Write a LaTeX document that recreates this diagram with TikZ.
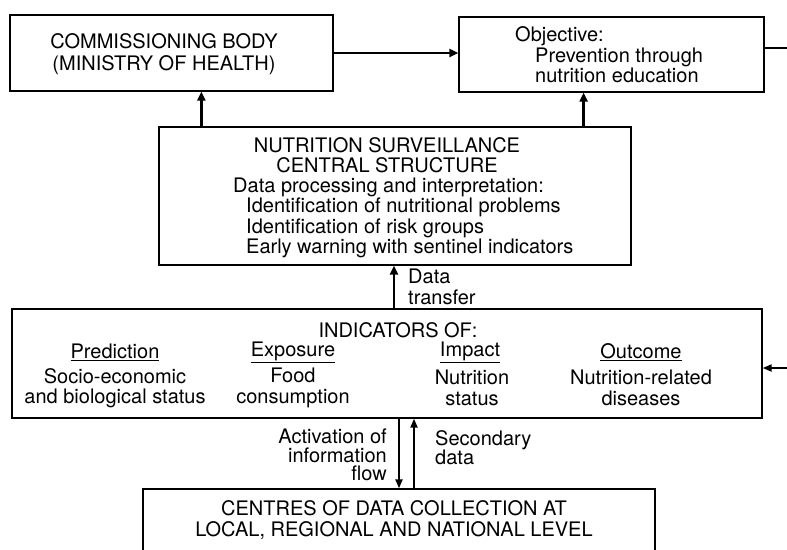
\documentclass[tikz,border=0pt]{standalone}
\usepackage{fontspec}
\setmainfont{TeX Gyre Heros}
\usetikzlibrary{arrows.meta}
\tikzset{
  boxnode/.style={draw, line width=1.3pt, inner sep=0pt, rectangle},
  txt/.style={inner sep=0pt, font=\fontsize{20}{20.5}\selectfont},
  thickarrow/.style={line width=2.6pt, -{Triangle[length=9pt,width=8pt]}},
  midarrow/.style={line width=2pt, -{Triangle[length=9pt,width=7pt]}},
  plainline/.style={line width=2pt}
}
\begin{document}
\begin{tikzpicture}[x=1pt,y=-1pt]
\useasboundingbox (0,0) rectangle (787,549);
\clip (0,0) rectangle (787,549);
% boxes
\node[boxnode, minimum width=323pt, minimum height=76pt] (comm) at (171.5,53) {};
\node[boxnode, minimum width=305pt, minimum height=75pt] (obj) at (611.5,54.5) {};
\node[boxnode, minimum width=472pt, minimum height=138pt] (central) at (395,196) {};
\node[boxnode, minimum width=750pt, minimum height=109pt] (ind) at (387,363.5) {};
\node[boxnode, minimum width=512pt, minimum height=100pt] (centres) at (399,539) {};
% texts
\node[txt, align=center] (commtxt) at (164,54) {COMMISSIONING BODY\\[1.5pt](MINISTRY OF HEALTH)};
\node[txt, align=left, anchor=west] (objtxt) at (515,55) {Objective:\\\hspace*{20pt}Prevention through\\\hspace*{20pt}nutrition education};
\node[txt, align=center] (centtitle) at (387,155) {NUTRITION SURVEILLANCE\\CENTRAL STRUCTURE};
\node[txt, align=left, anchor=west] (centbody) at (233,218) {Data processing and interpretation:\\\hspace*{13pt}Identification of nutritional problems\\\hspace*{13pt}Identification of risk groups\\\hspace*{13pt}Early warning with sentinel indicators};
\node[txt] (indtitle) at (398,330) {INDICATORS OF:};
\node[txt] (h1) at (115,352) {\underline{Prediction}};
\node[txt] (h2) at (293,352) {\underline{Exposure}};
\node[txt] (h3) at (470,352) {\underline{Impact}};
\node[txt] (h4) at (641,352) {\underline{Outcome}};
\node[txt, align=center] (b1) at (115,388) {Socio-economic\\and biological status};
\node[txt, align=center] (b2) at (293,388) {Food\\consumption};
\node[txt, align=center] (b3) at (472,388) {Nutrition\\status};
\node[txt, align=center] (b4) at (641,388) {Nutrition-related\\diseases};
\node[txt, align=left, anchor=west] (dtlabel) at (408,287) {Data\\transfer};
\node[txt, align=right, anchor=east, font=\fontsize{20}{18.5}\selectfont] (actlabel) at (387,455) {Activation of\\information\\flow};
\node[txt, align=left, anchor=west, font=\fontsize{20}{19}\selectfont] (seclabel) at (435,448) {Secondary\\data};
\node[txt, align=center] (centrestxt) at (394,520) {CENTRES OF DATA COLLECTION AT\\LOCAL, REGIONAL AND NATIONAL LEVEL};
% connectors
\draw[thickarrow] (comm.east) -- (comm.east -| obj.west);
\coordinate (c1) at ([xshift=43pt]central.north west);
\draw[thickarrow] (c1) -- (c1 |- comm.south);
\coordinate (c2) at ([xshift=-48pt]central.north east);
\draw[thickarrow] (c2) -- (c2 |- obj.south);
\coordinate (c3) at ([xshift=7pt]ind.north);
\draw[thickarrow] (c3) -- (c3 |- central.south);
\coordinate (c4) at ([xshift=12pt]ind.south);
\draw[midarrow] (c4) -- (c4 |- centres.north);
\coordinate (c5) at ([xshift=27pt]centres.north -| ind.south);
\coordinate (c5b) at ([xshift=27pt]ind.south);
\draw[midarrow] (c5b |- centres.north) -- (c5b);
\coordinate (outR) at (787,48);
\draw[plainline] ([yshift=6.5pt]obj.east) -- (outR);
\coordinate (inR) at (787,368);
\draw[midarrow] (inR) -- (inR -| ind.east);
\end{tikzpicture}
\end{document}
